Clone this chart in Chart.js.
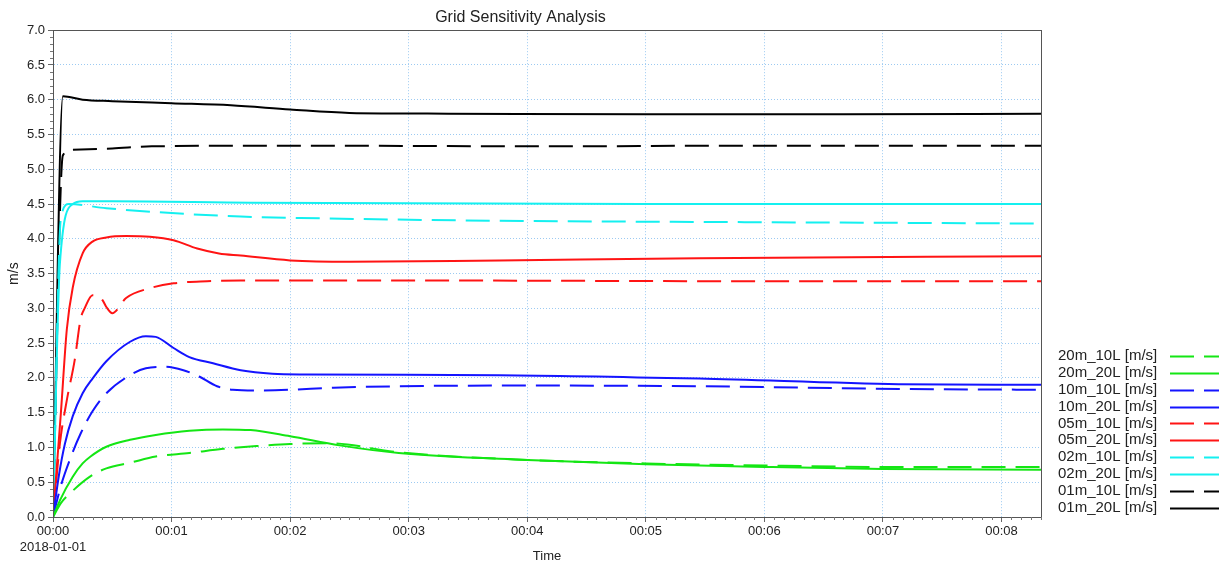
<!DOCTYPE html>
<html>
<head>
<meta charset="utf-8">
<script src="https://cdn.jsdelivr.net/npm/chart.js@4"></script>
<style>
  html, body { margin: 0; padding: 0; background: #fff; }
  #wrap { width: 1223px; height: 564px; }
</style>
</head>
<body>
<div id="wrap"><canvas id="gridChart" width="1223" height="564"></canvas></div>
<script>
// Time is in seconds from 2018-01-01 00:00, values in m/s
const t01m20L = [0, 5, 15, 30, 60, 90, 120, 150, 200, 300, 400, 500];
const v01m20L = [0, 6.05, 6.0, 5.98, 5.95, 5.92, 5.86, 5.81, 5.8, 5.79, 5.79, 5.8];

const t01m10L = [0, 5, 10, 30, 50, 120, 250, 350, 500];
const v01m10L = [0, 5.2, 5.28, 5.3, 5.33, 5.34, 5.33, 5.34, 5.34];

const t02m20L = [0, 3.5, 10, 15, 30, 100, 300, 500];
const v02m20L = [0, 3.65, 4.5, 4.54, 4.54, 4.52, 4.5, 4.5];

const t02m10L = [0, 4, 8, 27, 60, 95, 125, 225, 350, 500];
const v02m10L = [0, 4.3, 4.5, 4.44, 4.37, 4.32, 4.3, 4.26, 4.24, 4.22];

const t05m20L = [0, 4, 7, 10, 15, 20, 27, 37, 49, 61, 73, 84, 95, 120, 150, 226, 327, 500];
const v05m20L = [0, 1.5, 2.7, 3.3, 3.79, 3.96, 4.02, 4.04, 4.03, 3.98, 3.86, 3.79, 3.76, 3.69, 3.67, 3.69, 3.72, 3.75];

const t05m10L = [0, 3.5, 7, 11, 14, 16, 20, 25, 27, 30, 37, 49, 61, 78, 95, 200, 350, 500];
const v05m10L = [0, 1.06, 1.68, 2.26, 2.85, 3.0, 3.19, 3.12, 3.02, 2.93, 3.15, 3.29, 3.36, 3.39, 3.4, 3.4, 3.39, 3.39];

const t10m20L = [0, 3, 6, 10, 15, 20, 27, 39, 47, 52, 61, 69, 81, 95, 111, 128, 226, 327, 428, 500];
const v10m20L = [0, 0.6, 1.05, 1.45, 1.78, 1.99, 2.24, 2.52, 2.6, 2.59, 2.43, 2.3, 2.21, 2.11, 2.06, 2.05, 2.04, 1.99, 1.91, 1.9];

const t10m10L = [0, 4, 9, 14, 20, 27, 39, 47, 57, 66, 74, 83, 91, 103, 120, 142, 240, 330, 430, 500];
const v10m10L = [0, 0.45, 0.86, 1.2, 1.52, 1.78, 2.04, 2.14, 2.16, 2.11, 2.02, 1.88, 1.83, 1.82, 1.83, 1.86, 1.89, 1.88, 1.84, 1.83];

const t20m20L = [0, 3.5, 10, 15, 19, 27, 39, 52, 69, 86, 100, 120, 145, 175, 240, 300, 360, 420, 500];
const v20m20L = [0, 0.24, 0.58, 0.77, 0.87, 1.01, 1.11, 1.18, 1.24, 1.26, 1.25, 1.16, 1.03, 0.92, 0.82, 0.76, 0.72, 0.69, 0.68];

const t20m10L = [0, 4, 8.6, 18.7, 27, 39, 52, 69, 86, 103, 120, 140, 175, 240, 300, 360, 420, 500];
const v20m10L = [0, 0.2, 0.34, 0.58, 0.7, 0.78, 0.87, 0.92, 0.98, 1.02, 1.05, 1.06, 0.93, 0.82, 0.77, 0.74, 0.72, 0.72];

// legend order, top to bottom
const seriesLabels = [
  '20m_10L [m/s]', '20m_20L [m/s]', '10m_10L [m/s]', '10m_20L [m/s]', '05m_10L [m/s]',
  '05m_20L [m/s]', '02m_10L [m/s]', '02m_20L [m/s]', '01m_10L [m/s]', '01m_20L [m/s]'
];
const seriesTimes = [t20m10L, t20m20L, t10m10L, t10m20L, t05m10L, t05m20L, t02m10L, t02m20L, t01m10L, t01m20L];
const seriesValues = [v20m10L, v20m20L, v10m10L, v10m20L, v05m10L, v05m20L, v02m10L, v02m20L, v01m10L, v01m20L];
const seriesColors = ['#14e614', '#14e614', '#1414ff', '#1414ff', '#ff1414', '#ff1414', '#14f0f0', '#14f0f0', '#000000', '#000000'];

const yTicks = [0, 0.5, 1, 1.5, 2, 2.5, 3, 3.5, 4, 4.5, 5, 5.5, 6, 6.5, 7];
const xMaxSeconds = 500;

const FONT = "'Liberation Sans', Arial, sans-serif";
const DASH = [24, 10];

function toPoints(times, values) {
  return times.map((x, i) => ({ x: x, y: values[i] }));
}

const datasets = seriesLabels.map((label, i) => ({
  label: label,
  data: toPoints(seriesTimes[i], seriesValues[i]),
  borderColor: seriesColors[i],
  borderWidth: 2,
  borderDash: label.indexOf('_10L') > 0 ? DASH : [],
  pointRadius: 0,
  fill: false,
  cubicInterpolationMode: 'monotone'
}));

// frame, minor ticks and the legend on the right
const extrasPlugin = {
  id: 'extras',
  afterDraw(chart) {
    const ctx = chart.ctx;
    const area = chart.chartArea;
    const xs = chart.scales.x;
    const ys = chart.scales.y;

    ctx.save();
    ctx.strokeStyle = '#555';
    ctx.lineWidth = 1;
    ctx.strokeRect(Math.round(area.left) + 0.5, Math.round(area.top) + 0.5,
      Math.round(area.right - area.left), Math.round(area.bottom - area.top));

    // minor ticks
    ctx.strokeStyle = '#777';
    ctx.beginPath();
    for (let v = 0; v <= 70; v++) {
      if (v % 5 === 0) continue;
      const py = Math.round(ys.getPixelForValue(v / 10)) + 0.5;
      ctx.moveTo(area.left - 3, py);
      ctx.lineTo(area.left, py);
    }
    for (let s = 0; s <= xMaxSeconds; s += 5) {
      if (s % 60 === 0) continue;
      const px = Math.round(xs.getPixelForValue(s)) + 0.5;
      ctx.moveTo(px, area.bottom);
      ctx.lineTo(px, area.bottom + 3);
    }
    ctx.stroke();

    // legend: text then line sample
    ctx.font = '15px ' + FONT;
    ctx.textBaseline = 'middle';
    ctx.textAlign = 'left';
    chart.data.datasets.forEach((ds, i) => {
      const y = 356 + i * 16.85;
      ctx.fillStyle = '#222';
      ctx.fillText(ds.label, 1058, y);
      ctx.beginPath();
      ctx.strokeStyle = ds.borderColor;
      ctx.lineWidth = 2;
      ctx.setLineDash(ds.borderDash);
      ctx.moveTo(1170, Math.round(y) + 0.5);
      ctx.lineTo(1219, Math.round(y) + 0.5);
      ctx.stroke();
      ctx.setLineDash([]);
    });
    ctx.restore();
  }
};

const ctx = document.getElementById('gridChart').getContext('2d');
new Chart(ctx, {
  type: 'line',
  data: { datasets: datasets },
  options: {
    responsive: false,
    animation: false,
    layout: { padding: { left: 0, right: 182, top: 0, bottom: 0 } },
    plugins: {
      legend: { display: false },
      tooltip: { enabled: false },
      title: {
        display: true,
        text: 'Grid Sensitivity Analysis',
        color: '#222',
        font: { family: FONT, size: 16, weight: 'normal' },
        padding: { top: 8, bottom: 3 }
      }
    },
    scales: {
      x: {
        type: 'linear',
        min: 0,
        max: xMaxSeconds,
        afterFit: (scale) => { scale.height = 47; },
        grid: { color: '#9ccaf2', lineWidth: 1, tickLength: 5, tickColor: '#666' },
        border: { display: true, color: '#555', dash: [1, 2] },
        ticks: {
          stepSize: 60,
          includeBounds: false,
          autoSkip: false,
          maxRotation: 0,
          padding: 2,
          color: '#222',
          font: { family: FONT, size: 13 },
          callback: function(value) {
            const label = '00:0' + Math.round(value / 60);
            return value === 0 ? [label, '2018-01-01'] : label;
          }
        },
        title: {
          display: true,
          text: 'Time',
          color: '#222',
          font: { family: FONT, size: 13 },
          padding: 0
        }
      },
      y: {
        min: 0,
        max: 7,
        afterFit: (scale) => { scale.width = 53; },
        afterBuildTicks: (scale) => { scale.ticks = yTicks.map(v => ({ value: v })); },
        grid: { color: '#9ccaf2', lineWidth: 1, tickLength: 5, tickColor: '#666' },
        border: { display: true, color: '#555', dash: [1, 2] },
        ticks: {
          padding: 3,
          color: '#222',
          font: { family: FONT, size: 13 },
          callback: function(value) { return value.toFixed(1); }
        },
        title: {
          display: true,
          text: 'm/s',
          color: '#222',
          font: { family: FONT, size: 14 },
          padding: { top: 6, bottom: 0 }
        }
      }
    }
  },
  plugins: [extrasPlugin]
});
</script>
</body>
</html>
